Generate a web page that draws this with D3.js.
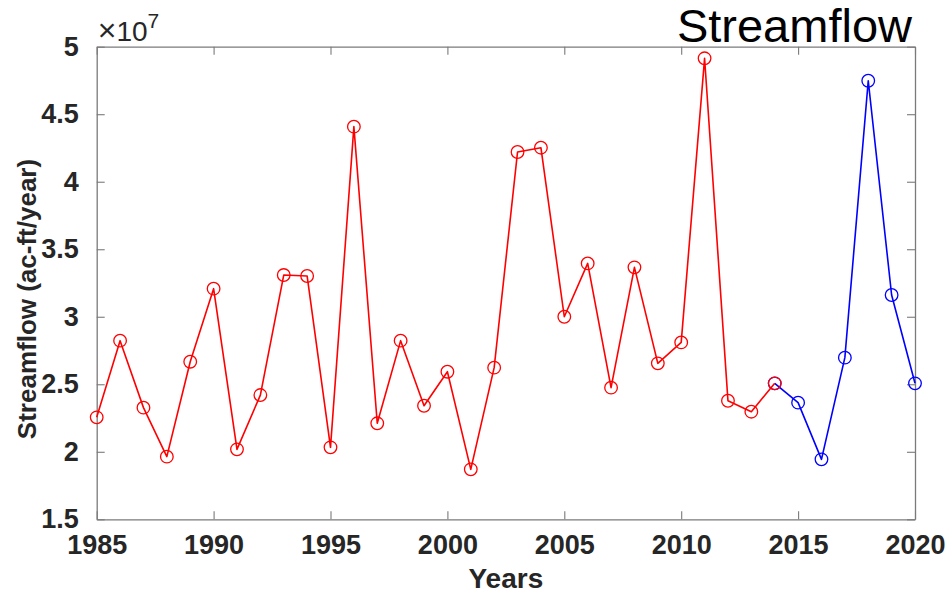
<!DOCTYPE html>
<html>
<head>
<meta charset="utf-8">
<script src="https://cdn.jsdelivr.net/npm/d3@7"></script>
<style>
  html, body { margin: 0; padding: 0; background: #fff; }
  svg { display: block; }
  text { font-family: "Liberation Sans", Arial, Helvetica, sans-serif; }
</style>
</head>
<body>
<svg id="chart" width="948" height="595"></svg>
<script>
// Annual streamflow, in units of 10^7 acre-feet per year
const observedYears = [1985, 1986, 1987, 1988, 1989, 1990, 1991, 1992, 1993, 1994,
                       1995, 1996, 1997, 1998, 1999, 2000, 2001, 2002, 2003, 2004,
                       2005, 2006, 2007, 2008, 2009, 2010, 2011, 2012, 2013, 2014];
const observedFlow  = [2.255, 2.823, 2.327, 1.964, 2.667, 3.208, 2.018, 2.420, 3.309, 3.302,
                       2.033, 4.408, 2.211, 2.823, 2.341, 2.593, 1.870, 2.623, 4.220, 4.252,
                       3.000, 3.395, 2.475, 3.366, 2.655, 2.810, 4.914, 2.378, 2.297, 2.507];
const recentYears = [2014, 2015, 2016, 2017, 2018, 2019, 2020];
const recentFlow  = [2.507, 2.364, 1.944, 2.697, 4.748, 3.161, 2.507];

const xTicks = [1985, 1990, 1995, 2000, 2005, 2010, 2015, 2020];
const yTicks = [1.5, 2, 2.5, 3, 3.5, 4, 4.5, 5];
const yExponent = "7";
const chartTitle = "Streamflow";
const xLabel = "Years";
const yLabel = "Streamflow (ac-ft/year)";

const svg = d3.select("#chart");
const box = { left: 96.7, right: 915, top: 46.7, bottom: 519.3 };

const x = d3.scaleLinear().domain([1985, 2020]).range([box.left, box.right]);
const y = d3.scaleLinear().domain([1.5, 5]).range([box.bottom, box.top]);

const axisColor = "#7a7a7a";
const labelColor = "#262626";
const tickLen = 8;

// Axes box (all four sides)
const fmt = d => d3.format("~g")(d);

const gBottom = svg.append("g").attr("transform", `translate(0,${box.bottom})`)
  .call(d3.axisBottom(x).tickValues(xTicks).tickFormat(d3.format("d"))
        .tickSizeInner(-tickLen).tickSizeOuter(0).tickPadding(16));
const gTop = svg.append("g").attr("transform", `translate(0,${box.top})`)
  .call(d3.axisTop(x).tickValues(xTicks).tickFormat("")
        .tickSizeInner(-tickLen).tickSizeOuter(0));
const gLeft = svg.append("g").attr("transform", `translate(${box.left},0)`)
  .call(d3.axisLeft(y).tickValues(yTicks).tickFormat(fmt)
        .tickSizeInner(-tickLen).tickSizeOuter(0).tickPadding(18));
const gRight = svg.append("g").attr("transform", `translate(${box.right},0)`)
  .call(d3.axisRight(y).tickValues(yTicks).tickFormat("")
        .tickSizeInner(-tickLen).tickSizeOuter(0));

[gBottom, gTop, gLeft, gRight].forEach(g => {
  g.select(".domain").attr("stroke", axisColor).attr("stroke-width", 1.3);
  g.selectAll(".tick line").attr("stroke", axisColor).attr("stroke-width", 1.1);
  g.selectAll(".tick text")
    .attr("fill", labelColor)
    .style("font-size", "27px")
    .style("font-weight", "bold")
    .style("font-family", '"Liberation Sans", Arial, sans-serif');
});
gBottom.selectAll(".tick text").attr("dy", "0.71em");

// Scale factor above the y axis
const expo = svg.append("text")
  .attr("x", box.left + 1)
  .attr("y", box.top - 6)
  .attr("fill", labelColor)
  .attr("font-size", 28);
expo.append("tspan").attr("font-size", 32).text("\u00d7");
expo.append("tspan").attr("font-size", 28).text("10");
expo.append("tspan").attr("dy", -13).attr("font-size", 21).text(yExponent);

// Series
const line = d3.line().x(d => x(d[0])).y(d => y(d[1]));

function drawSeries(years, flow, color) {
  const pts = years.map((yr, i) => [yr, flow[i]]);
  svg.append("path")
    .datum(pts)
    .attr("d", line)
    .attr("fill", "none")
    .attr("stroke", color)
    .attr("stroke-width", 1.6)
    .attr("stroke-linejoin", "round");
  svg.append("g").selectAll("circle")
    .data(pts)
    .join("circle")
    .attr("cx", d => x(d[0]))
    .attr("cy", d => y(d[1]))
    .attr("r", 6.3)
    .attr("fill", "none")
    .attr("stroke", color)
    .attr("stroke-width", 1.3);
}

drawSeries(recentYears, recentFlow, "#0000ff");
drawSeries(observedYears, observedFlow, "#ff0000");

// Axis labels
svg.append("text")
  .attr("x", (box.left + box.right) / 2)
  .attr("y", 588)
  .attr("text-anchor", "middle")
  .attr("fill", labelColor)
  .style("font-size", "28px")
  .style("font-weight", "bold")
  .text(xLabel);

svg.append("text")
  .attr("transform", `translate(36,${(box.top + box.bottom) / 2 + 16}) rotate(-90)`)
  .attr("text-anchor", "middle")
  .attr("fill", labelColor)
  .style("font-size", "26px")
  .style("font-weight", "bold")
  .text(yLabel);

// Title
svg.append("text")
  .attr("x", 912)
  .attr("y", 42)
  .attr("text-anchor", "end")
  .attr("fill", "#000")
  .style("font-size", "47px")
  .text(chartTitle);
</script>
</body>
</html>
